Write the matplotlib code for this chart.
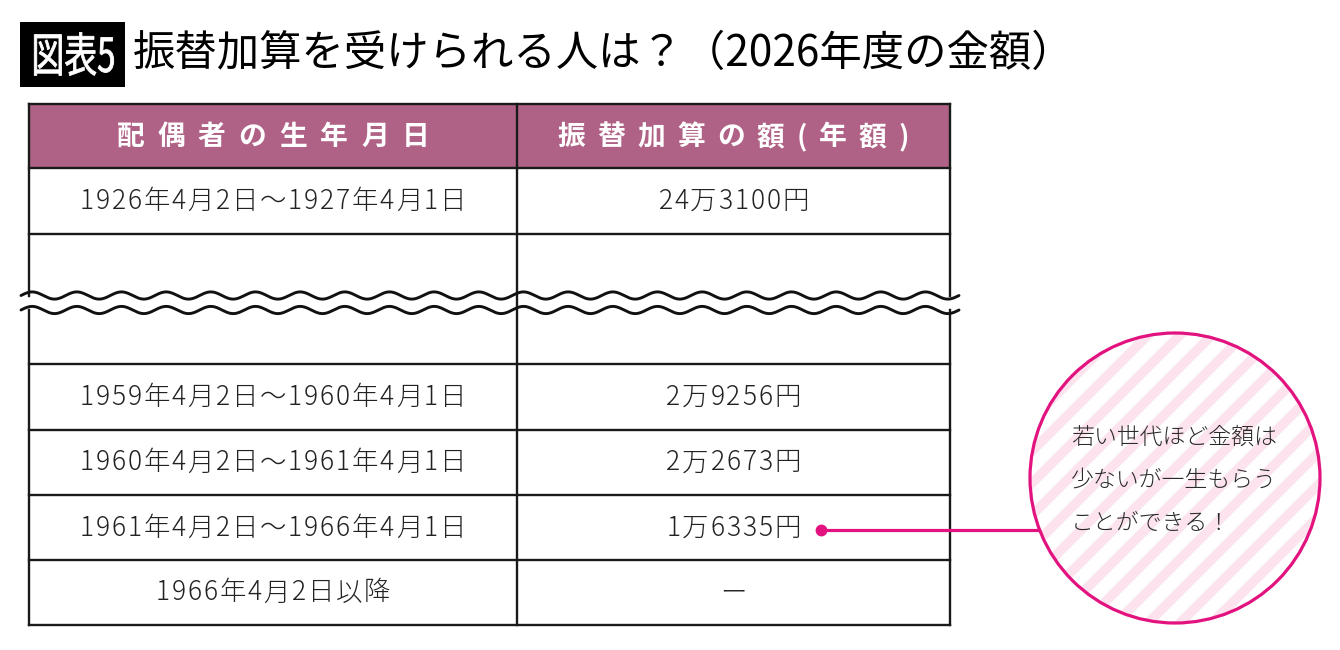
import matplotlib
matplotlib.use("Agg")
import matplotlib.pyplot as plt
import numpy as np
from matplotlib.patches import Rectangle, Circle, PathPatch
from matplotlib.textpath import TextPath, TextToPath
from matplotlib.font_manager import FontProperties
from matplotlib.transforms import Affine2D

plt.rcParams['font.family'] = ['Noto Sans CJK JP', 'DejaVu Sans']

# ---- data ----
title_tag = "図表5"
title = "振替加算を受けられる人は？（2026年度の金額）"
headers = ["配偶者の生年月日", "振替加算の額(年額)"]
birth_ranges = [
    "1926年4月2日〜1927年4月1日",
    "",
    "1959年4月2日〜1960年4月1日",
    "1960年4月2日〜1961年4月1日",
    "1961年4月2日〜1966年4月1日",
    "1966年4月2日以降",
]
amounts = ["24万3100円", "", "2万9256円", "2万2673円", "1万6335円", "ー"]
note_lines = ["若い世代ほど金額は", "少ないが一生もらう", "ことができる！"]
highlight_row = 4
gap_row = 1

# ---- layout (pixels) ----
W, H = 1340, 650
X_LEFT, X_MID, X_RIGHT = 29, 517, 950
ROW_EDGES = [104, 168, 234, 364, 430, 495, 560, 625]
HEADER_COLOR = "#B06286"
MAGENTA = "#E2127F"
STRIPE = "#FCE3EE"
TEXT_COLOR = "#222222"
PX = 100 / 72  # pixels per point

_t2p = TextToPath()


def tracked_text(ax, x, y, s, size, gap, **kw):
    """Draw s centred on x with extra spacing of gap pixels between glyphs."""
    prop = FontProperties(family='Noto Sans CJK JP', size=size,
                          weight=kw.get('weight', 'normal'))
    widths = [_t2p.get_text_width_height_descent(c, prop, ismath=False)[0] * PX
              for c in s]
    total = sum(widths) + gap * (len(s) - 1)
    cur = x - total / 2
    for c, w in zip(s, widths):
        ax.text(cur + w / 2, y, c, ha='center', va='center', fontsize=size, **kw)
        cur += w + gap
    return x + total / 2


fig = plt.figure(figsize=(W / 100, H / 100), dpi=100)
ax = fig.add_axes([0, 0, 1, 1])
ax.set_xlim(0, W)
ax.set_ylim(H, 0)
ax.axis('off')

# title tag, drawn condensed
ax.add_patch(Rectangle((20, 22), 105, 65, facecolor='black', edgecolor='none'))
tp = TextPath((0, 0), title_tag, size=47,
              prop=FontProperties(family='Noto Sans CJK JP', weight='normal'))
bb = tp.get_extents()
sx = 0.70
tx = 74 - (bb.x0 + bb.width / 2) * sx
ty = 54 + (bb.y0 + bb.height / 2)
tp = tp.transformed(Affine2D().scale(sx, -1).translate(tx, ty))
ax.add_patch(PathPatch(tp, facecolor='white', edgecolor='white', lw=0.6))

ax.text(133, 54, title, ha='left', va='center', fontsize=30.5, color='black')

# header
ax.add_patch(Rectangle((X_LEFT, ROW_EDGES[0]), X_RIGHT - X_LEFT,
                       ROW_EDGES[1] - ROW_EDGES[0], facecolor=HEADER_COLOR,
                       edgecolor='none'))
col_centers = [(X_LEFT + X_MID) / 2, (X_MID + X_RIGHT) / 2]
tracked_text(ax, col_centers[0], (ROW_EDGES[0] + ROW_EDGES[1]) / 2 + 1,
             headers[0], 20, 13, color='white', weight='bold')
tracked_text(ax, col_centers[1], (ROW_EDGES[0] + ROW_EDGES[1]) / 2 + 1,
             headers[1], 20, 12, color='white', weight='bold')

# body text
dot_x = None
for i, (b, a) in enumerate(zip(birth_ranges, amounts)):
    yc = (ROW_EDGES[i + 1] + ROW_EDGES[i + 2]) / 2
    if b:
        tracked_text(ax, col_centers[0], yc, b, 19, 1.8, color=TEXT_COLOR,
                     weight='light')
    if a:
        right = tracked_text(ax, col_centers[1], yc, a, 19, 1.8,
                             color=TEXT_COLOR, weight='light')
        if i == highlight_row:
            dot_x = right + 20
            dot_y = yc + 2

# grid lines
lw = 1.7
wave_y = [295.5, 310.0]
for y in ROW_EDGES:
    ax.plot([X_LEFT, X_RIGHT], [y, y], color='#1a1a1a', lw=lw,
            solid_capstyle='projecting', zorder=3)
for x in (X_LEFT, X_RIGHT):
    ax.plot([x, x], [ROW_EDGES[0], wave_y[0]], color='#1a1a1a', lw=lw, zorder=3)
    ax.plot([x, x], [wave_y[1], ROW_EDGES[-1]], color='#1a1a1a', lw=lw, zorder=3)
ax.plot([X_MID, X_MID], [ROW_EDGES[0], ROW_EDGES[-1]], color='#1a1a1a', lw=lw,
        zorder=3)

# break waves across the omitted rows
wx = np.linspace(21, 959, 1200)
period = (959 - 21) / 21
for yc in wave_y:
    ax.plot(wx, yc - 3.6 * np.sin(2 * np.pi * (wx - 21) / period),
            color='#111111', lw=2.1, zorder=4, solid_capstyle='round')

# callout circle
cx, cy, r = 1175, 478, 145
ax.plot([dot_x, cx], [dot_y, dot_y], color=MAGENTA, lw=2.3, zorder=5)
ax.plot([dot_x], [dot_y], 'o', color=MAGENTA, ms=7.5, zorder=6)
fill = Circle((cx, cy), r, facecolor='white', edgecolor='none', zorder=6)
ax.add_patch(fill)
for c in np.arange(cx + cy - 2 * r - 40, cx + cy + 2 * r + 40, 32):
    xs = np.array([cx - r - 10, cx + r + 10])
    line, = ax.plot(xs, c - xs, color=STRIPE, lw=7.0, zorder=7,
                    solid_capstyle='butt')
    line.set_clip_path(fill)
ax.add_patch(Circle((cx, cy), r, facecolor='none', edgecolor=MAGENTA, lw=2.3,
                    zorder=8))
for k, line_txt in enumerate(note_lines):
    ax.text(1071, 437 + 43 * k, line_txt, ha='left', va='center', fontsize=16.5,
            color='#2a2a2a', weight='light', zorder=9)

fig.savefig("out.png", dpi=100, facecolor='white')
